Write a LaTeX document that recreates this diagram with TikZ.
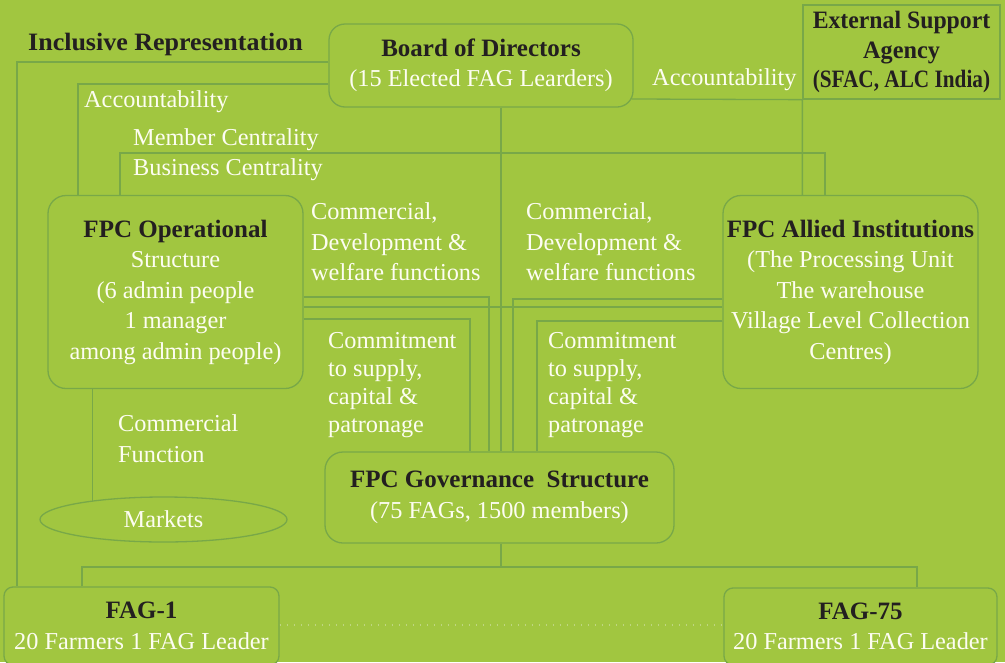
\documentclass[tikz,border=0pt]{standalone}
\usepackage{fontspec}
\setmainfont{Liberation Serif}
\usetikzlibrary{shapes.geometric,calc}
\definecolor{bg}{RGB}{161,198,64}
\definecolor{lnc}{RGB}{120,168,72}
\definecolor{wt}{RGB}{253,253,242}
\definecolor{dk}{RGB}{35,31,32}
\definecolor{dtc}{RGB}{190,214,128}
\newcommand{\fsreg}{\fontsize{24.3pt}{30.5pt}\selectfont}
\newcommand{\fstight}{\fontsize{24.3pt}{27.7pt}\selectfont}
\newcommand{\hd}[1]{{\fontsize{25pt}{30.5pt}\selectfont\bfseries\color{dk}#1}}
\newcommand{\hdn}[2]{{\fontsize{25pt}{29.5pt}\selectfont\bfseries\color{dk}\scalebox{#1}[1]{#2}}}
\begin{document}
\begin{tikzpicture}[x=1pt,y=-1pt,
  ln/.style={draw=lnc, line width=1.3pt},
  dotline/.style={draw=dtc, line width=1.3pt, dash pattern=on 1.4pt off 5.6pt},
  box/.style={draw=lnc, line width=1.3pt, fill=bg, rounded corners=16pt, align=center, text=wt, font=\fsreg, inner sep=0pt},
  lbl/.style={text=wt, font=\fsreg, inner sep=0pt, align=left}]
\fill[bg] (0,0) rectangle (1005,662);
\useasboundingbox (0,0) rectangle (1005,662);
\clip (0,0) rectangle (1005,662);

% boxes
\node[box, minimum width=304pt, minimum height=83pt] (board) at (481,65.5)
  {\hd{Board of Directors}\\(15 Elected FAG Learders)};
\node[box, sharp corners, minimum width=197pt, minimum height=94pt, font=\fontsize{25pt}{29.5pt}\selectfont] (ag) at (901.5,52)
  {\hdn{0.95}{External Support}\\\hdn{0.97}{Agency}\\\hdn{0.85}{(SFAC, ALC India)}};
\node[box, rounded corners=18pt, minimum width=255pt, minimum height=193pt] (ops) at (175.5,292)
  {\hd{FPC Operational}\\Structure\\(6 admin people\\1 manager\\among admin people)};
\node[box, rounded corners=18pt, minimum width=255pt, minimum height=193pt] (ali) at (850.5,292)
  {\hd{FPC Allied Institutions}\\(The Processing Unit\\The warehouse\\Village Level Collection\\Centres)};
\node[box, rounded corners=18pt, minimum width=349pt, minimum height=91pt] (gov) at (499.5,497.5)
  {\hd{FPC Governance\ \ Structure}\\(75 FAGs, 1500 members)};
\node[box, rounded corners=9pt, minimum width=275pt, minimum height=78pt] (fag1) at (141.5,626)
  {\hd{FAG-1}\\20 Farmers 1 FAG Leader};
\node[box, rounded corners=9pt, minimum width=273pt, minimum height=77pt] (fag75) at (860.5,626.5)
  {\hd{FAG-75}\\20 Farmers 1 FAG Leader};
\node[ellipse, draw=lnc, line width=1.3pt, fill=bg, minimum width=247pt, minimum height=45pt, inner sep=0pt, text=wt, font=\fsreg] (markets) at (163.5,519.5) {Markets};

% free labels (base = baseline of the last line)
\node[lbl, anchor=base west] (tir) at (28,50) {\hdn{1.04}{Inclusive Representation}};
\node[lbl, anchor=base west] (tacl) at (84,107) {Accountability};
\node[lbl, anchor=base west] (tmc) at (133,145) {Member Centrality};
\node[lbl, anchor=base west] (tbc) at (133,175) {Business Centrality};
\node[lbl, anchor=base west] (tacr) at (652,85) {Accountability};
\node[lbl, anchor=base west] (tcdl) at (311,280.5) {Commercial,\\Development \&\\welfare functions};
\node[lbl, anchor=base west] (tcdr) at (526,280.5) {Commercial,\\Development \&\\welfare functions};
\node[lbl, anchor=base west, font=\fstight] (tcml) at (328,432) {Commitment\\to supply,\\capital \&\\patronage};
\node[lbl, anchor=base west, font=\fstight] (tcmr) at (548,432) {Commitment\\to supply,\\capital \&\\patronage};
\node[lbl, anchor=base west] (tcf) at (118,462) {Commercial\\Function};

% named coordinates
\coordinate (ir) at (17,62);
\coordinate (acl) at (78,84);
\coordinate (mc) at (120,153);
\coordinate (mcr) at (825,153);
\coordinate (ar) at (700,99);
\coordinate (c1) at (489,297);
\coordinate (c2) at (500,307);
\coordinate (c3) at (470,319);
\coordinate (c4) at (513,299);
\coordinate (c5) at (537,321);
\coordinate (gb) at (501,567);
\coordinate (gl) at (82,567);
\coordinate (gr) at (917,567);
\coordinate (dt) at (500,625);

% connectors
\draw[ln] (board.west |- ir) -- (ir) -- (ir |- fag1.north);
\draw[ln] (board.west |- acl) -- (acl) -- (acl |- ops.north);
\draw[ln] (mc |- ops.north) -- (mc) -- (mcr) -- (mcr |- ali.north);
\draw[ln] (board.south -| gb) -- (gb |- gov.north);
\draw[ln] ($(board.east |- ar)+(-2,0)$) -- (ag.south west) -- (ag.south west |- ali.north);
\draw[ln] (ops.east |- c1) -- (c1) -- (c1 |- gov.north);
\draw[ln] (ops.east |- c2) -- (ali.west |- c2);
\draw[ln] (ops.east |- c3) -- (c3) -- (c3 |- gov.north);
\draw[ln] (ali.west |- c4) -- (c4) -- (c4 |- gov.north);
\draw[ln] (ali.west |- c5) -- (c5) -- (c5 |- gov.north);
\draw[ln] (markets.165) -- (markets.165 |- ops.south);
\draw[ln] (gov.south -| gb) -- (gb);
\draw[ln] (gl |- fag1.north) -- (gl) -- (gr) -- (gr |- fag75.north);
\draw[dotline] (fag1.east |- dt) -- (fag75.west |- dt);
\end{tikzpicture}
\end{document}
